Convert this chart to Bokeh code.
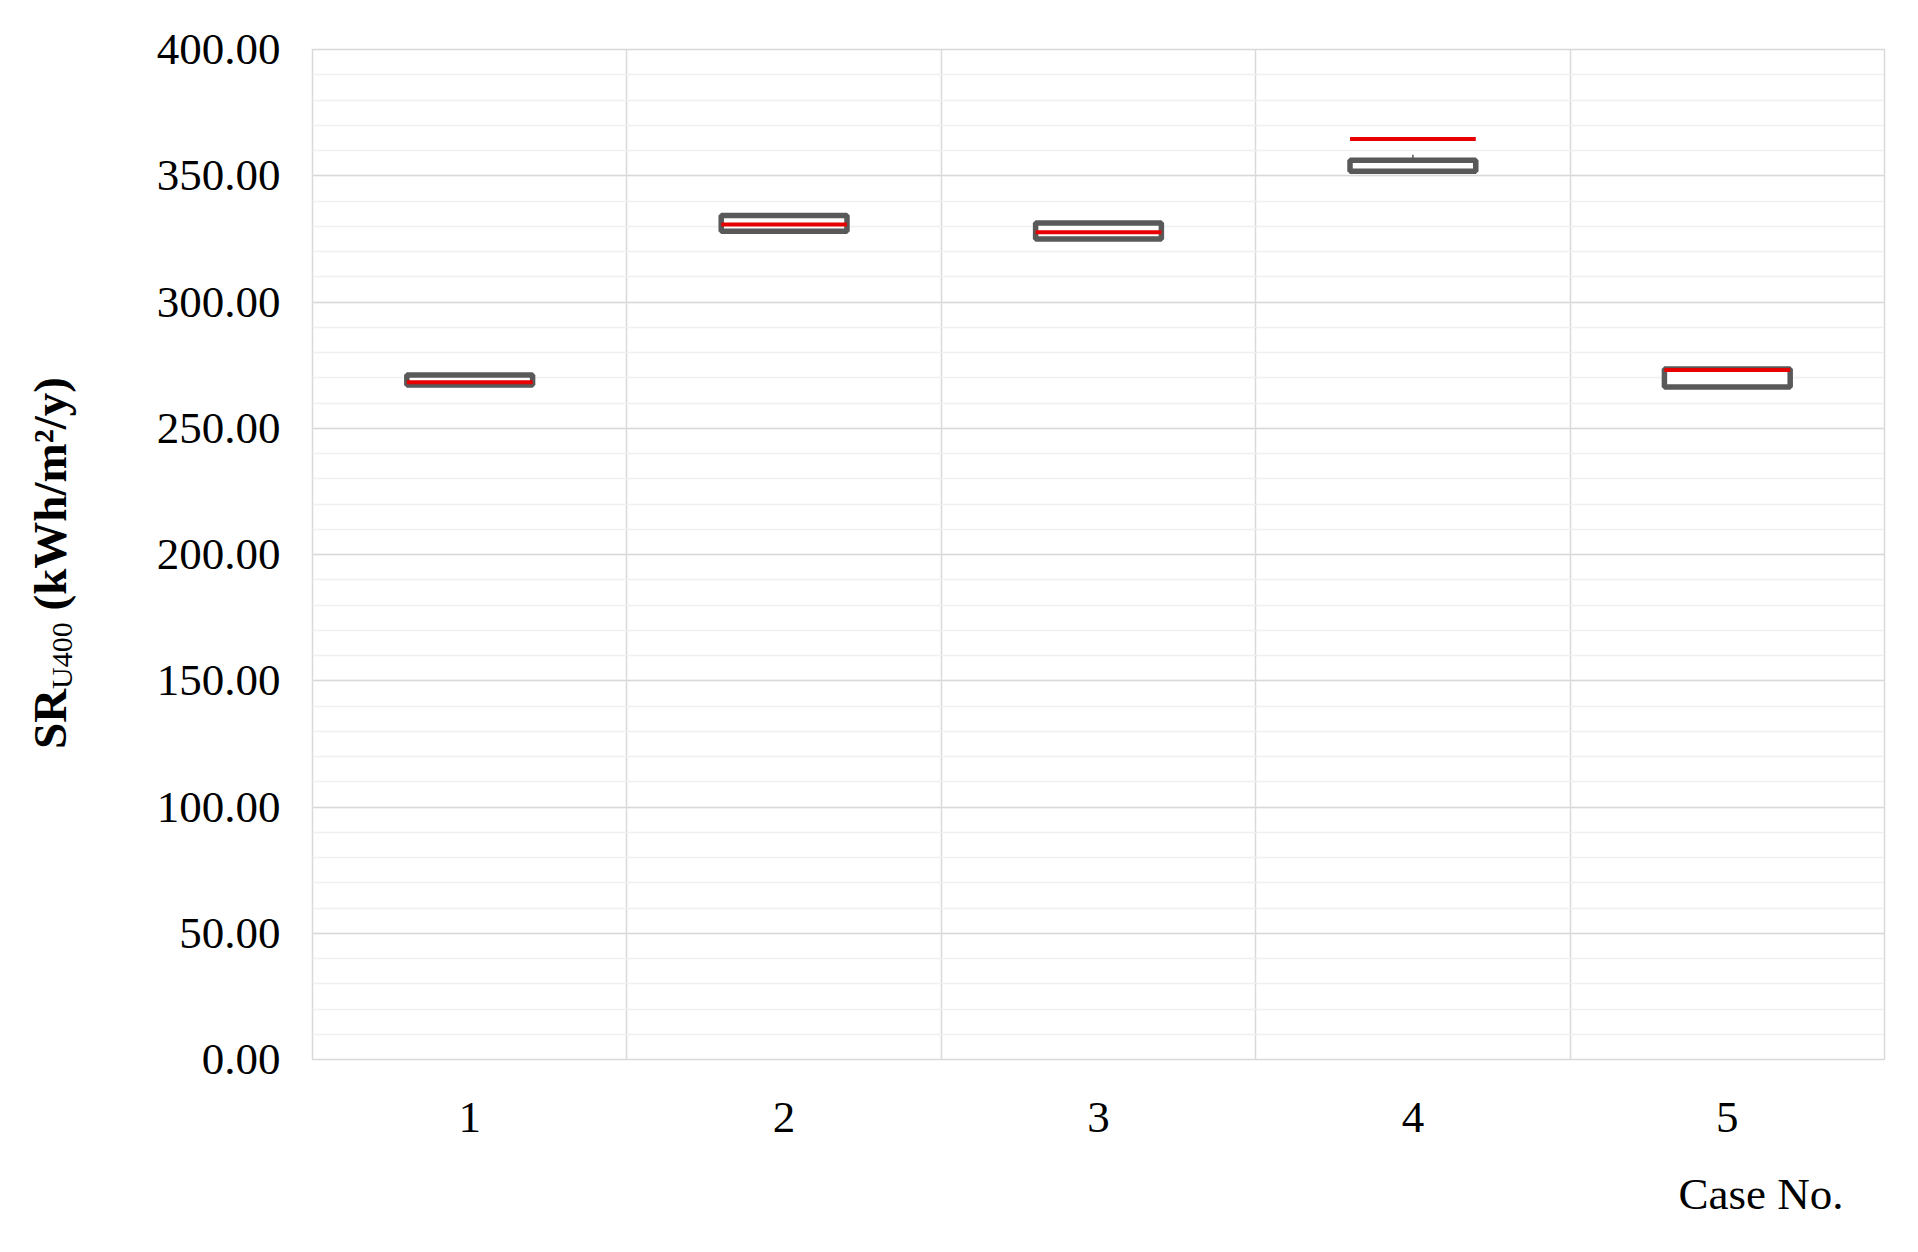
from bokeh.plotting import figure
from bokeh.models import FixedTicker, Range1d, NumeralTickFormatter, Title, Div
from bokeh.layouts import row
from bokeh.embed import file_html
from bokeh.resources import INLINE

# ---- data ----
cases = [1, 2, 3, 4, 5]
q1 = [267.1, 328.0, 325.0, 351.8, 266.3]
q3 = [271.1, 334.3, 331.3, 356.1, 273.5]
whisker_high = [271.1, 334.3, 331.3, 358.3, 273.5]
red_value = [268.2, 330.7, 327.6, 364.6, 273.1]
y_ticks = [0, 50, 100, 150, 200, 250, 300, 350, 400]
y_minor = list(range(0, 401, 10))
x_title = "Case No."
y_title_main = "SR"
y_title_sub = "U400"
y_title_unit = "(kWh/m²/y)"

BOX_W = 0.40
FONT = "Liberation Serif"
H = 1252
DIV_W = 120
SHIFT = 10  # the Div's own 5px margins

p = figure(width=1902 - DIV_W - SHIFT, height=H,
           x_range=Range1d(0.5, 5.5), y_range=Range1d(0, 400),
           output_backend="svg", toolbar_location=None,
           min_border_left=312 - DIV_W - SHIFT, min_border_right=18,
           min_border_top=49, min_border_bottom=193)

p.background_fill_color = "white"
p.border_fill_color = "white"
p.outline_line_color = "#d9d9d9"
p.outline_line_width = 1.5

# grids
p.ygrid.ticker = FixedTicker(ticks=y_ticks, minor_ticks=y_minor)
p.ygrid.grid_line_color = "#d9d9d9"
p.ygrid.grid_line_width = 1.5
p.ygrid.minor_grid_line_color = "#f0f0f0"
p.ygrid.minor_grid_line_width = 1.5
bounds = [c - 0.5 for c in cases] + [cases[-1] + 0.5]
p.xgrid.ticker = FixedTicker(ticks=bounds)
p.xgrid.grid_line_color = "#d9d9d9"
p.xgrid.grid_line_width = 1.5

# axes
for ax in (p.xaxis[0], p.yaxis[0]):
    ax.axis_line_color = None
    ax.major_tick_line_color = None
    ax.minor_tick_line_color = None
    ax.major_label_text_font = FONT
    ax.major_label_text_font_size = "45px"
    ax.major_label_text_color = "black"
p.xaxis.ticker = FixedTicker(ticks=cases)
p.yaxis.ticker = FixedTicker(ticks=y_ticks)
p.yaxis.formatter = NumeralTickFormatter(format="0.00")
p.yaxis.major_label_standoff = 26
p.xaxis.major_label_standoff = 37

# whiskers
p.segment(x0=cases, x1=cases, y0=q3, y1=whisker_high, line_color="#595959", line_width=1.5)

# boxes
p.vbar(x=cases, width=BOX_W, bottom=q1, top=q3, fill_color="white",
       line_color="#595959", line_width=5.5)

# red lines
p.segment(x0=[c - BOX_W / 2 for c in cases], x1=[c + BOX_W / 2 for c in cases],
          y0=red_value, y1=red_value, line_color="#e60000", line_width=4)

# x axis title, right-aligned below the axis
p.add_layout(Title(text=x_title, align="right", offset=41, standoff=64,
                   text_font=FONT, text_font_size="45px", text_font_style="normal",
                   text_color="black"), "below")

# y axis title with a real subscript, rotated, in an HTML column left of the plot
html = (
    f'<div style="position:relative;width:{DIV_W}px;height:1236px;">'
    '<span style="position:absolute;left:22px;top:744px;white-space:nowrap;'
    'transform:rotate(-90deg);transform-origin:0 0;line-height:47px;'
    f"font-family:'{FONT}';font-size:47px;font-weight:bold;color:black;\">"
    f'{y_title_main}<span style="font-size:30px;font-weight:normal;position:relative;top:6px;">'
    f'{y_title_sub}</span> {y_title_unit}</span></div>'
)
div = Div(text=html, width=DIV_W, height=1236)

layout = row(div, p)
open("out.html", "w").write(file_html(layout, INLINE))
